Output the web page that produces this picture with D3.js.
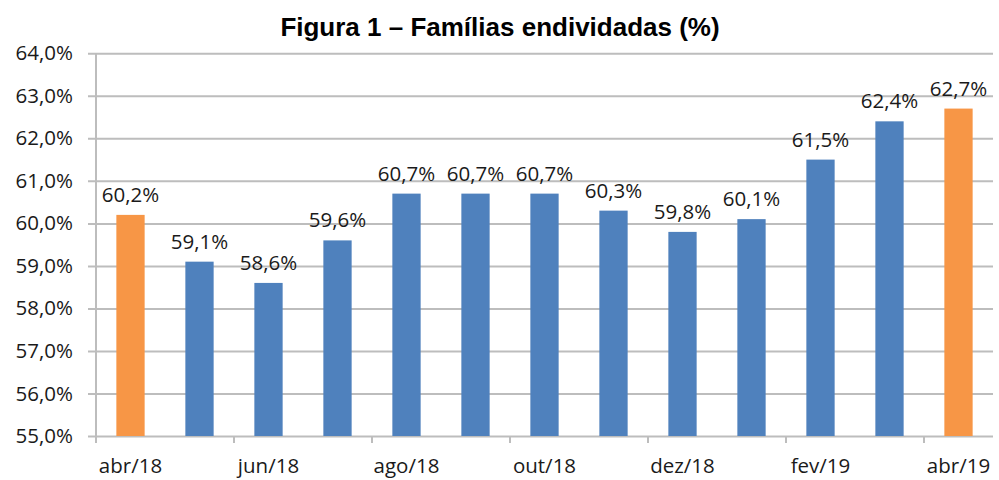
<!DOCTYPE html>
<html>
<head>
<meta charset="utf-8">
<script src="https://cdn.jsdelivr.net/npm/d3@7"></script>
<style>
  html, body { margin: 0; padding: 0; background: #fff; }
  svg { display: block; }
</style>
</head>
<body>
<svg id="chart" width="999" height="480"></svg>
<script>
const title = "Figura 1 – Famílias endividadas (%)";
const categories = ["abr/18","mai/18","jun/18","jul/18","ago/18","set/18","out/18","nov/18","dez/18","jan/19","fev/19","mar/19","abr/19"];
const values = [60.2, 59.1, 58.6, 59.6, 60.7, 60.7, 60.7, 60.3, 59.8, 60.1, 61.5, 62.4, 62.7];
const highlighted = ["abr/18", "abr/19"];
const yTicks = [55, 56, 57, 58, 59, 60, 61, 62, 63, 64];
const xTickLabels = ["abr/18","jun/18","ago/18","out/18","dez/18","fev/19","abr/19"];

(function () {
const svg = d3.select("#chart");
const pLeft = 96, pRight = 993, pTop = 53.3, pBottom = 436;
const fmt = v => d3.format(".1f")(v).replace(".", ",") + "%";

const x = d3.scaleBand().domain(categories).range([pLeft, pRight]).padding(0);
const y = d3.scaleLinear().domain([55, 64]).range([pBottom, pTop]);
const barW = x.bandwidth() * 0.41;

const textFont = "'Open Sans', 'Noto Sans', sans-serif";
const textSize = 20.5;
const textColor = "#1a1a1a";
const gridColor = "#BDBDBD";

// title
svg.append("text")
  .attr("x", 500).attr("y", 36)
  .attr("text-anchor", "middle")
  .attr("font-family", "'Liberation Sans', Arial, sans-serif")
  .attr("font-weight", "bold")
  .attr("font-size", 26)
  .attr("fill", "#000")
  .text(title);

// y gridlines + labels
const yAxis = d3.axisLeft(y).tickValues(yTicks).tickFormat(fmt)
  .tickSize(-(pRight - pLeft)).tickPadding(15);
const gy = svg.append("g").attr("transform", `translate(${pLeft},0)`).call(yAxis);
gy.select(".domain").remove();
gy.selectAll(".tick line").attr("stroke", gridColor).attr("stroke-width", 2).attr("x1", -8);
gy.selectAll(".tick text")
  .attr("font-family", textFont).attr("font-size", textSize).attr("fill", textColor)
  .attr("x", -23);

// vertical axis line
svg.append("line").attr("x1", pLeft).attr("x2", pLeft).attr("y1", pTop).attr("y2", pBottom + 7)
  .attr("stroke", gridColor).attr("stroke-width", 2);

// x axis ticks (every two categories) and labels
const tickCats = categories.filter((c, i) => i % 2 === 0);
svg.append("g").selectAll("line").data(tickCats).join("line")
  .attr("x1", d => x(d)).attr("x2", d => x(d))
  .attr("y1", pBottom).attr("y2", pBottom + 7)
  .attr("stroke", gridColor).attr("stroke-width", 2);

svg.append("g").selectAll("text").data(xTickLabels).join("text")
  .attr("x", d => x(d) + x.bandwidth() / 2)
  .attr("y", 473)
  .attr("text-anchor", "middle")
  .attr("font-family", textFont).attr("font-size", textSize).attr("fill", textColor)
  .text(d => d);

// bars
const data = categories.map((c, i) => ({ c, v: values[i] }));
svg.append("g").selectAll("rect").data(data).join("rect")
  .attr("x", d => x(d.c) + (x.bandwidth() - barW) / 2)
  .attr("width", barW)
  .attr("y", d => y(d.v))
  .attr("height", d => y(55) - y(d.v))
  .attr("fill", d => highlighted.includes(d.c) ? "#F79646" : "#4F81BD");

// value labels
svg.append("g").selectAll("text").data(data).join("text")
  .attr("x", d => x(d.c) + x.bandwidth() / 2)
  .attr("y", d => y(d.v) - 13)
  .attr("text-anchor", "middle")
  .attr("font-family", textFont).attr("font-size", textSize).attr("fill", textColor)
  .text(d => fmt(d.v));
})();
</script>
</body>
</html>
